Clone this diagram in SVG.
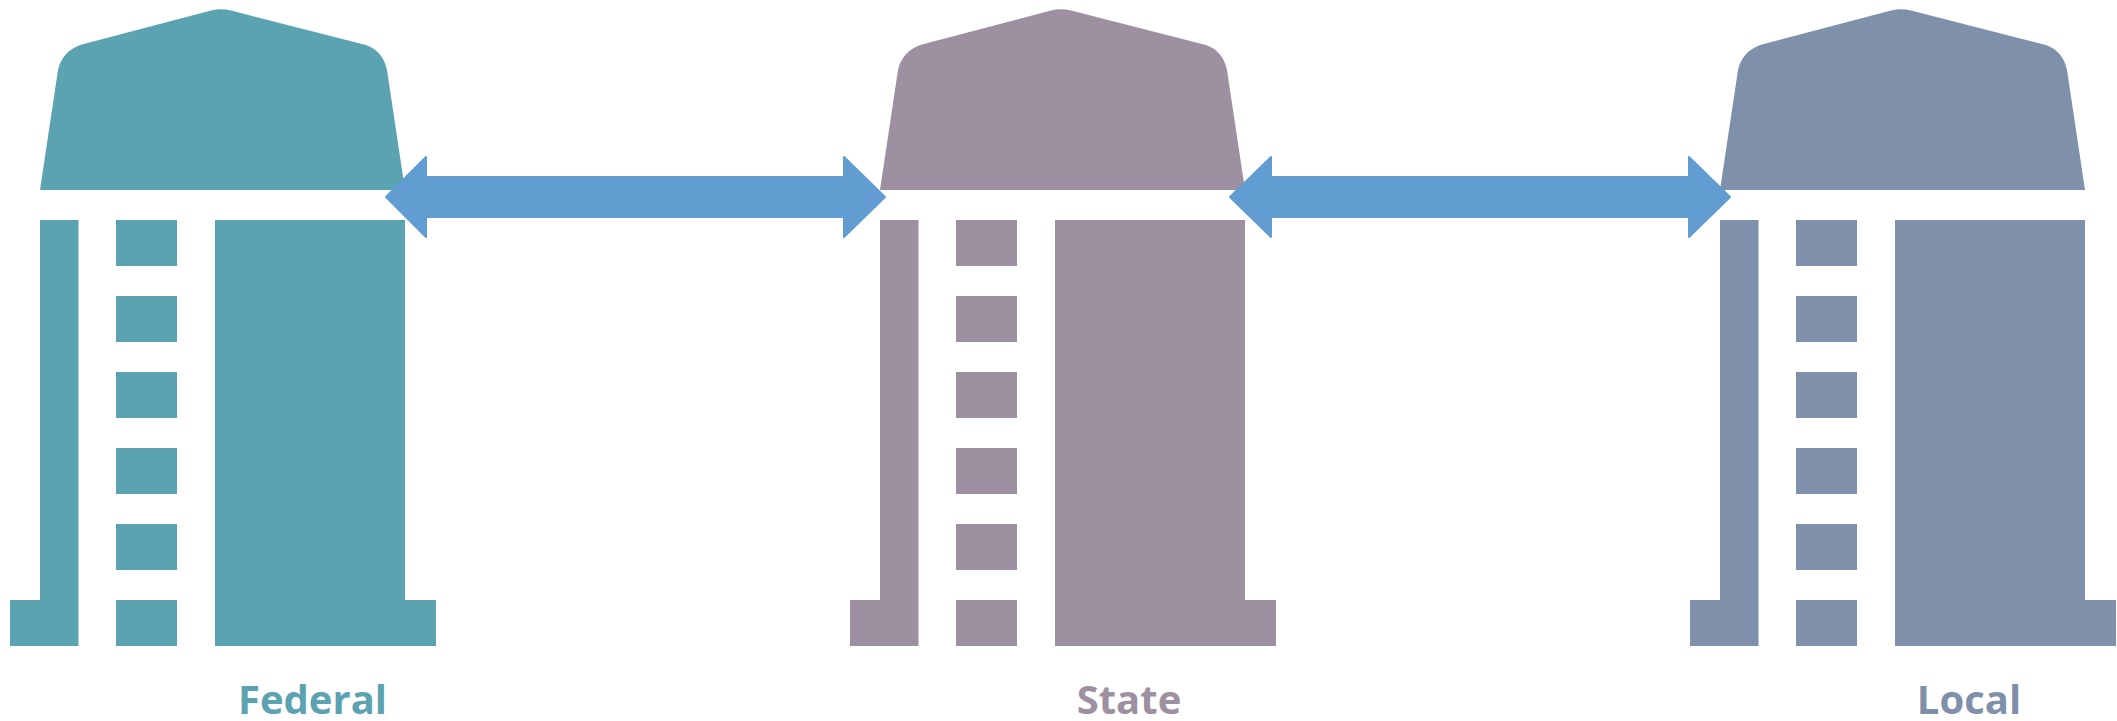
<svg xmlns="http://www.w3.org/2000/svg" xmlns:xlink="http://www.w3.org/1999/xlink" width="2117" height="721" viewBox="0 0 2117 721">
<style>
.label{font-family:"Open Sans","Liberation Sans",sans-serif;font-weight:700;font-size:40px;text-anchor:middle}
.federal{fill:#5ba3b0}.state{fill:#9d90a0}.local{fill:#7f90ab}
.arrow{fill:#619dd1;stroke:#619dd1;stroke-width:2;stroke-linejoin:round}
</style>
<defs>
<g id="building">
<path d="M40,190 L58,70 Q62,52 80,45 L211,10.500 Q221,8 231,10.500 L366,45 Q383,51 387,70 L405,190 Z"/>
<path d="M40,220 H78.500 V646 H10 V600 H40 Z"/>
<path d="M215,220 H405 V600 H436 V646 H215 Z"/>
<rect x="116" y="220" width="61" height="46"/>
<rect x="116" y="296" width="61" height="46"/>
<rect x="116" y="372" width="61" height="46"/>
<rect x="116" y="448" width="61" height="46"/>
<rect x="116" y="524" width="61" height="46"/>
<rect x="116" y="600" width="61" height="46"/>
</g>
</defs>
<rect width="2117" height="721" fill="#ffffff"/>
<g id="node-federal" class="federal">
<use xlink:href="#building" href="#building"/>
<text class="label" x="312.500" y="714">Federal</text>
</g>
<g id="node-state" class="state">
<use xlink:href="#building" href="#building" x="840"/>
<text class="label" x="1129" y="714">State</text>
</g>
<g id="node-local" class="local">
<use xlink:href="#building" href="#building" x="1680"/>
<text class="label" x="1969" y="714">Local</text>
</g>
<g id="connectors">
<path class="arrow" d="M386,197 L426,157 V177 H844 V157 L885,197 L844,237 V217 H426 V237 Z"/>
<path class="arrow" d="M1230,197 L1271,157 V177 H1689 V157 L1730,197 L1689,237 V217 H1271 V237 Z"/>
</g>
</svg>
